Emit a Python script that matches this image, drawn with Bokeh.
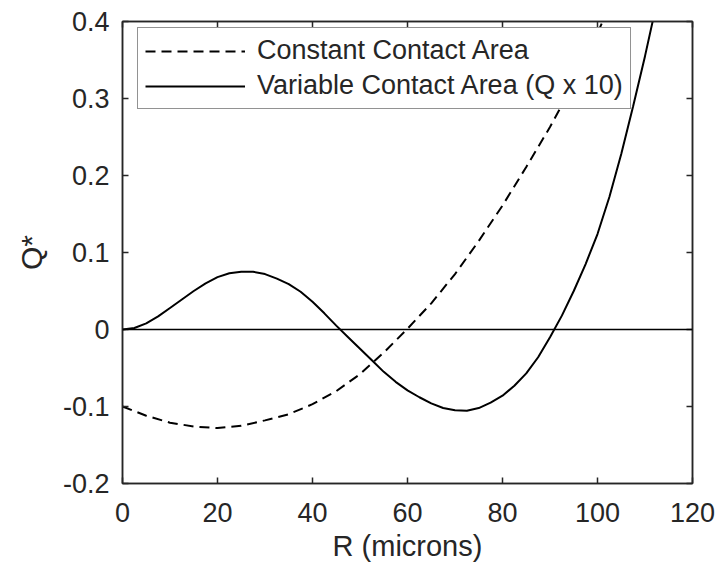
from bokeh.plotting import figure
from bokeh.models import LinearAxis, Range1d, Span, Legend, LegendItem, FixedTicker
from bokeh.embed import file_html
from bokeh.resources import INLINE

# ---- data ----
r_const = [0, 5, 10, 15, 20, 25, 30, 35, 40, 45, 50, 55, 60, 65, 70, 75, 80, 85, 90, 95, 100, 105]
q_const = [-0.100, -0.112, -0.121, -0.126, -0.128, -0.125, -0.118, -0.110, -0.097, -0.080,
           -0.058, -0.030, 0.001, 0.034, 0.072, 0.115, 0.161, 0.211, 0.263, 0.320, 0.385, 0.455]

r_var = [0, 2.5, 5, 7.5, 10, 12.5, 15, 17.5, 20, 22.5, 25, 27.5, 30, 32.5, 35, 37.5, 40, 42.5,
         45, 47.5, 50, 52.5, 55, 57.5, 60, 62.5, 65, 67.5, 70, 72.5, 75, 77.5, 80, 82.5, 85,
         87.5, 90, 92.5, 95, 97.5, 100, 102.5, 105, 107.5, 110, 112.5]
q_var = [0.0, 0.002, 0.008, 0.017, 0.028, 0.039, 0.050, 0.060, 0.068, 0.073, 0.075, 0.075,
         0.072, 0.066, 0.059, 0.049, 0.036, 0.021, 0.005, -0.010, -0.025, -0.040, -0.055,
         -0.068, -0.079, -0.088, -0.096, -0.102, -0.105, -0.1055, -0.102, -0.095, -0.086,
         -0.073, -0.057, -0.036, -0.010, 0.018, 0.050, 0.085, 0.124, 0.172, 0.228, 0.290,
         0.355, 0.425]

x_ticks = [0, 20, 40, 60, 80, 100, 120]
y_ticks = [-0.2, -0.1, 0, 0.1, 0.2, 0.3, 0.4]
y_tick_labels = ["-0.2", "-0.1", "0", "0.1", "0.2", "0.3", "0.4"]

series_labels = ["Constant Contact Area", "Variable Contact Area (Q x 10)"]
x_title = "R (microns)"
y_title = "Q*"

FONT = "Liberation Sans"
AX = "#262626"

p = figure(width=722, height=572, x_range=Range1d(0, 120), y_range=Range1d(-0.2, 0.4),
           output_backend="svg", toolbar_location=None,
           min_border_left=122, min_border_right=30, min_border_top=21, min_border_bottom=89)
p.xgrid.visible = False
p.ygrid.visible = False
p.outline_line_color = AX
p.outline_line_width = 1.5
p.background_fill_color = "white"
p.border_fill_color = "white"


def style_axis(ax, ticks, show_labels=True):
    ax.ticker = FixedTicker(ticks=ticks)
    ax.major_tick_in = 6
    ax.major_tick_out = 0
    ax.minor_tick_line_color = None
    ax.axis_line_color = AX
    ax.axis_line_width = 1.5
    ax.major_tick_line_color = AX
    ax.major_tick_line_width = 1.5
    ax.major_label_text_font = FONT
    ax.axis_label_text_font = FONT
    ax.axis_label_text_font_style = "normal"
    ax.axis_label_text_color = AX
    if show_labels:
        ax.major_label_text_font_size = "27px"
        ax.major_label_text_color = AX
    else:
        ax.major_label_text_font_size = "0px"
        ax.major_label_text_color = None
        ax.major_label_standoff = 0


style_axis(p.xaxis[0], x_ticks)
style_axis(p.yaxis[0], y_ticks)
p.xaxis[0].major_label_standoff = 19
p.yaxis[0].major_label_standoff = 13
p.yaxis[0].major_label_overrides = {t: s for t, s in zip(y_ticks, y_tick_labels)}
p.xaxis[0].axis_label = x_title
p.xaxis[0].axis_label_text_font_size = "29px"
p.xaxis[0].axis_label_standoff = 5
p.yaxis[0].axis_label = y_title
p.yaxis[0].axis_label_text_font_size = "30px"
p.yaxis[0].axis_label_standoff = 12

top_ax = LinearAxis()
style_axis(top_ax, x_ticks, show_labels=False)
p.add_layout(top_ax, "above")
right_ax = LinearAxis()
style_axis(right_ax, y_ticks, show_labels=False)
p.add_layout(right_ax, "right")

p.add_layout(Span(location=0, dimension="width", line_color="black", line_width=1.5))

dashed = p.line(r_const, q_const, line_color="black", line_width=2, line_dash="10 6")
solid = p.line(r_var, q_var, line_color="black", line_width=2)

legend = Legend(items=[LegendItem(label=series_labels[0], renderers=[dashed]),
                       LegendItem(label=series_labels[1], renderers=[solid])],
                location=(15, 374), margin=0, padding=7, spacing=4,
                glyph_width=100, glyph_height=28, label_height=28, label_standoff=12,
                label_text_font=FONT, label_text_font_size="27px", label_text_color=AX,
                border_line_color=AX, border_line_width=1.2,
                background_fill_color="white", background_fill_alpha=1.0)
p.add_layout(legend, "center")

open("out.html", "w").write(file_html(p, INLINE))
